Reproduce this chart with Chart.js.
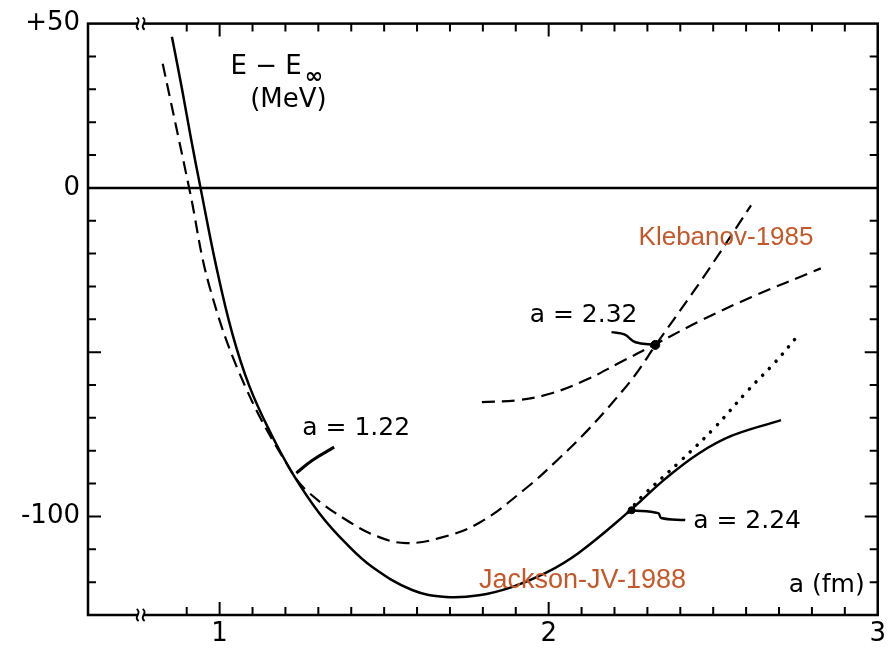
<!DOCTYPE html>
<html>
<head>
<meta charset="utf-8">
<script src="https://cdn.jsdelivr.net/npm/chart.js@4.4.0/dist/chart.umd.min.js"></script>
<style>
  html, body { margin: 0; padding: 0; background: #fff; }
</style>
</head>
<body>
<canvas id="energyChart" width="890" height="649"></canvas>
<script>
// a (fm) vs E - E_inf (MeV)
const jacksonA = [0.855, 0.885, 0.913, 0.942, 0.991, 1.039, 1.091, 1.152, 1.221, 1.303, 1.385, 1.464, 1.585, 1.688, 1.788, 1.888, 1.991, 2.091, 2.242, 2.355, 2.455, 2.555, 2.706];
const jacksonE = [46, 30.5, 15, 0, -24.5, -44.5, -60.5, -74, -86.8, -99, -108.3, -115.4, -122.4, -124.5, -124, -121.5, -117.2, -111.1, -98.7, -88.5, -80.9, -75.5, -70.7];

// long dashed branch (deep minimum near a = 1.55)
const klebLowA = [0.827, 0.909, 0.970, 1.079, 1.221, 1.273, 1.385, 1.485, 1.567, 1.667, 1.788, 1.930, 2.030, 2.121, 2.203, 2.264, 2.324, 2.464, 2.615];
const klebLowE = [37.8, -0.8, -30.3, -60.7, -86.8, -92.9, -101.1, -106.3, -108.1, -106.6, -102.0, -91.5, -82.5, -73.5, -64.3, -56.8, -48.0, -28.1, -5.3];

// flatter dashed branch
const klebHighA = [1.797, 1.909, 2.009, 2.112, 2.212, 2.324, 2.464, 2.615, 2.827];
const klebHighE = [-65.2, -64.6, -62.5, -58.5, -53.4, -47.6, -40.3, -33.3, -24.5];

// dotted continuation
const dottedA = [2.242, 2.282, 2.403, 2.506, 2.606, 2.688, 2.758];
const dottedE = [-98.7, -94.1, -82.9, -72.8, -61.6, -53.1, -44.9];

// marked points and their pointer strokes
const markA = [2.324, 2.252];
const markE = [-47.8, -98.1];
const lead122A = [1.233, 1.282, 1.348];
const lead122E = [-86.8, -82.9, -78.9];
const lead232A = [2.191, 2.230, 2.264, 2.324];
const lead232E = [-43.9, -44.6, -47.0, -47.8];
const lead224A = [2.252, 2.333, 2.342, 2.415];
const lead224E = [-98.1, -99.0, -100.5, -101.1];

// axes
const xTickLabels = [1, 2, 3];
const yTickLabels = [-100, 0, 50];
const xMinorStart = 0.9, xMinorEnd = 2.9, xMinorStep = 0.1;
const yMinorStart = -120, yMinorEnd = 40, yMinorStep = 10;
const xBreak = 0.76;

const FONT = '"DejaVu Sans", sans-serif';
const ORANGE = '#c5582a';

function pts(xs, ys) {
  return xs.map((x, i) => ({ x: x, y: ys[i] }));
}

function lineSet(xs, ys, extra) {
  return Object.assign({
    type: 'line',
    data: pts(xs, ys),
    borderColor: '#000',
    borderWidth: 2.5,
    pointRadius: 0,
    fill: false,
    tension: 0.4
  }, extra || {});
}

// frame, inward ticks, zero line, axis breaks
const framePlugin = {
  id: 'frame',
  beforeDatasetsDraw(chart) {
    const { ctx, chartArea: a, scales: { x, y } } = chart;
    ctx.save();
    ctx.strokeStyle = '#000';
    ctx.lineWidth = 2.5;
    ctx.strokeRect(a.left, a.top, a.right - a.left, a.bottom - a.top);

    const y0 = y.getPixelForValue(0);
    ctx.beginPath();
    ctx.moveTo(a.left, y0);
    ctx.lineTo(a.right, y0);
    ctx.stroke();

    ctx.lineWidth = 2;
    ctx.beginPath();
    for (let v = xMinorStart; v <= xMinorEnd + 1e-6; v += xMinorStep) {
      const px = x.getPixelForValue(v);
      const len = Math.abs(v - Math.round(v)) < 1e-6 ? 13 : 8;
      ctx.moveTo(px, a.bottom); ctx.lineTo(px, a.bottom - len);
      ctx.moveTo(px, a.top); ctx.lineTo(px, a.top + len);
    }
    for (let v = yMinorStart; v <= yMinorEnd + 1e-6; v += yMinorStep) {
      if (v === 0) continue;
      const py = y.getPixelForValue(v);
      const len = v % 50 === 0 ? 13 : 8;
      ctx.moveTo(a.left, py); ctx.lineTo(a.left + len, py);
      ctx.moveTo(a.right, py); ctx.lineTo(a.right - len, py);
    }
    ctx.stroke();

    // axis break marks
    const bx = x.getPixelForValue(xBreak);
    [a.top, a.bottom].forEach(by => {
      ctx.fillStyle = '#fff';
      ctx.fillRect(bx - 3, by - 3, 6, 6);
      ctx.lineWidth = 2;
      [-3, 3].forEach(dx => {
        ctx.beginPath();
        ctx.moveTo(bx + dx - 1, by - 6);
        ctx.bezierCurveTo(bx + dx + 5, by - 2, bx + dx - 5, by + 2, bx + dx + 1, by + 6);
        ctx.stroke();
      });
    });
    ctx.restore();
  }
};

// annotations placed in data coordinates
const notes = [
  { text: '(MeV)', x: 1.209, y: 26.6, size: 26 },
  { text: 'a = 1.22', x: 1.415, y: -73.1, size: 25 },
  { text: 'a = 2.32', x: 2.106, y: -38.8, size: 25 },
  { text: 'a = 2.24', x: 2.603, y: -101.4, size: 25 },
  { text: 'a (fm)', x: 2.845, y: -120.9, size: 25 },
  { text: 'Klebanov-1985', x: 2.539, y: -15.1, size: 26, color: ORANGE, family: '"Liberation Sans", Arial, sans-serif' },
  { text: 'Jackson-JV-1988', x: 2.103, y: -119.4, size: 27, color: ORANGE, family: '"Liberation Sans", Arial, sans-serif' }
];

const notePlugin = {
  id: 'notes',
  afterDatasetsDraw(chart) {
    const { ctx, scales: { x, y } } = chart;
    ctx.save();
    ctx.textBaseline = 'middle';
    ctx.textAlign = 'center';
    notes.forEach(n => {
      ctx.fillStyle = n.color || '#000';
      ctx.font = n.size + 'px ' + (n.family || FONT);
      ctx.fillText(n.text, x.getPixelForValue(n.x), y.getPixelForValue(n.y));
    });
    // E - E_inf with subscript
    ctx.textAlign = 'left';
    ctx.fillStyle = '#000';
    ctx.font = '26px ' + FONT;
    const ex = x.getPixelForValue(1.033), ey = y.getPixelForValue(36.6);
    ctx.fillText('E \u2212 E', ex, ey);
    const w = ctx.measureText('E \u2212 E').width;
    ctx.font = 'bold 22px ' + FONT;
    ctx.fillText('\u221E', ex + w + 3, ey + 10);
    ctx.restore();
  }
};

new Chart(document.getElementById('energyChart').getContext('2d'), {
  data: {
    datasets: [
      lineSet(jacksonA, jacksonE),
      lineSet(klebLowA, klebLowE, { borderWidth: 2.2, borderDash: [13, 7] }),
      lineSet(klebHighA, klebHighE, { borderWidth: 2.2, borderDash: [13, 7] }),
      lineSet(dottedA, dottedE, { borderWidth: 3.5, borderDash: [0.1, 9.5], borderCapStyle: 'round' }),
      lineSet(lead122A, lead122E, { borderWidth: 3 }),
      lineSet(lead232A, lead232E, { borderWidth: 2.5 }),
      lineSet(lead224A, lead224E, { borderWidth: 2.5 }),
      {
        type: 'scatter',
        data: pts(markA, markE),
        pointRadius: [4.5, 3.5],
        backgroundColor: '#000',
        borderColor: '#000'
      }
    ]
  },
  options: {
    responsive: false,
    animation: false,
    devicePixelRatio: 1,
    layout: { padding: { top: 23, right: 9, left: 0, bottom: 0 } },
    plugins: { legend: { display: false }, tooltip: { enabled: false } },
    scales: {
      x: {
        type: 'linear', min: 0.6, max: 3,
        afterBuildTicks: s => { s.ticks = xTickLabels.map(v => ({ value: v })); },
        afterFit: s => { s.height = 34; },
        ticks: { color: '#000', font: { family: FONT, size: 26 }, padding: 4, maxRotation: 0, autoSkip: false },
        grid: { display: false, drawTicks: false },
        border: { display: false }
      },
      y: {
        type: 'linear', min: -130, max: 50,
        afterBuildTicks: s => { s.ticks = yTickLabels.map(v => ({ value: v })); },
        afterFit: s => { s.width = 88; },
        ticks: {
          color: '#000', font: { family: FONT, size: 26 }, padding: 8, autoSkip: false,
          callback: v => v > 0 ? '+' + v : String(v)
        },
        grid: { display: false, drawTicks: false },
        border: { display: false }
      }
    }
  },
  plugins: [framePlugin, notePlugin]
});
</script>
</body>
</html>
